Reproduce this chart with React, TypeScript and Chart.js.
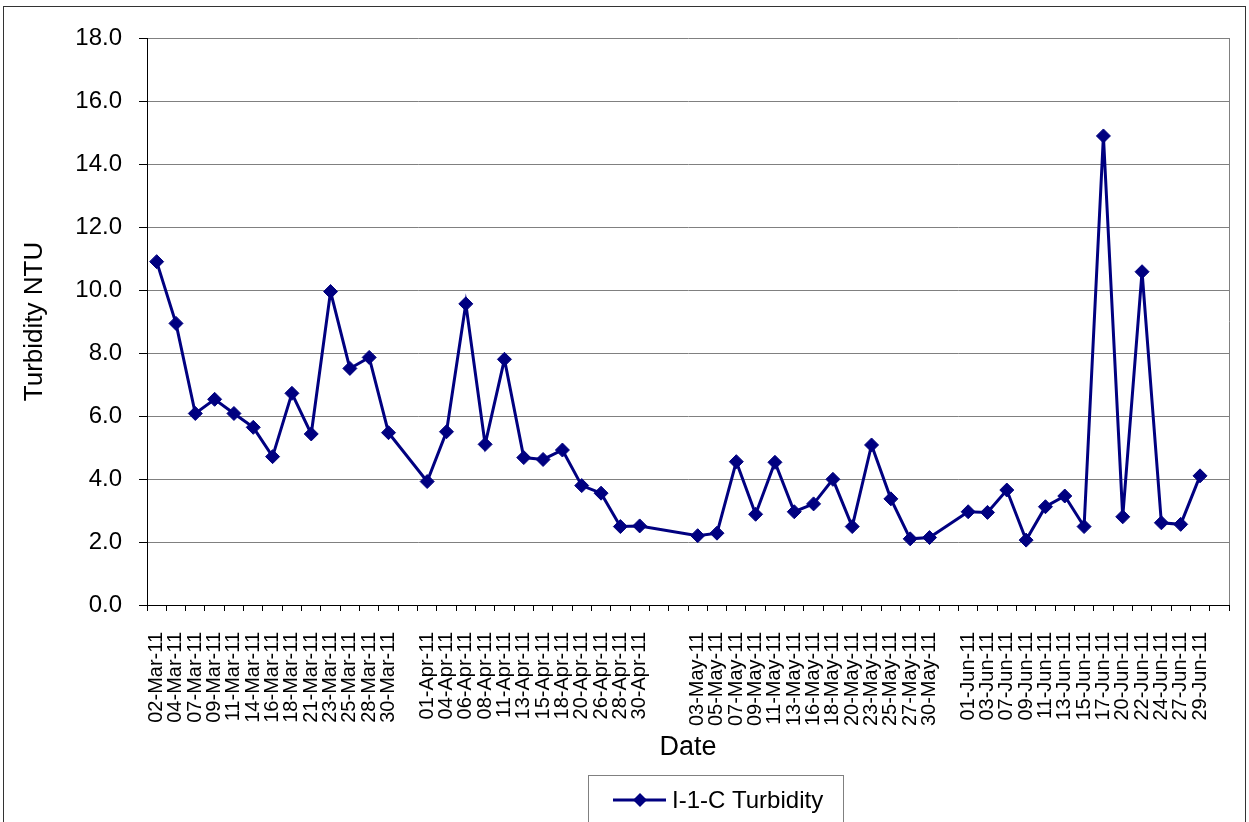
import { useEffect, useRef } from 'react';
import { Chart, registerables } from 'chart.js';

Chart.register(...registerables);

const FONT = '"Liberation Sans", Arial, sans-serif';

// Categories ('' = empty slot on the category axis)
const categories: string[] = [
  '02-Mar-11', '04-Mar-11', '07-Mar-11', '09-Mar-11', '11-Mar-11', '14-Mar-11', '16-Mar-11',
  '18-Mar-11', '21-Mar-11', '23-Mar-11', '25-Mar-11', '28-Mar-11', '30-Mar-11',
  '',
  '01-Apr-11', '04-Apr-11', '06-Apr-11', '08-Apr-11', '11-Apr-11', '13-Apr-11', '15-Apr-11',
  '18-Apr-11', '20-Apr-11', '26-Apr-11', '28-Apr-11', '30-Apr-11',
  '', '',
  '03-May-11', '05-May-11', '07-May-11', '09-May-11', '11-May-11', '13-May-11', '16-May-11',
  '18-May-11', '20-May-11', '23-May-11', '25-May-11', '27-May-11', '30-May-11',
  '',
  '01-Jun-11', '03-Jun-11', '07-Jun-11', '09-Jun-11', '11-Jun-11', '13-Jun-11', '15-Jun-11',
  '17-Jun-11', '20-Jun-11', '22-Jun-11', '24-Jun-11', '27-Jun-11', '29-Jun-11',
  '',
];

const turbidity: (number | null)[] = [
  10.9, 8.94, 6.08, 6.53, 6.08, 5.64, 4.71, 6.72, 5.43, 9.95, 7.51, 7.86, 5.47,
  null,
  3.92, 5.5, 9.56, 5.1, 7.8, 4.68, 4.62, 4.92, 3.79, 3.55, 2.49, 2.51,
  null, null,
  2.2, 2.28, 4.55, 2.88, 4.53, 2.96, 3.21, 3.99, 2.49, 5.08, 3.37, 2.1, 2.14,
  null,
  2.96, 2.94, 3.65, 2.06, 3.12, 3.46, 2.49, 14.89, 2.8, 10.58, 2.61, 2.56, 4.1,
  null,
];

const seriesLabel = 'I-1-C Turbidity';
const yTickLabels = ['0.0', '2.0', '4.0', '6.0', '8.0', '10.0', '12.0', '14.0', '16.0', '18.0'];
const xTitle = 'Date';
const yTitle = 'Turbidity NTU';

const NAVY = '#000080';

const plotFrame = {
  id: 'plotFrame',
  afterDraw(chart: any) {
    const { ctx, chartArea } = chart;
    ctx.save();
    ctx.strokeStyle = '#808080';
    ctx.lineWidth = 1;
    ctx.beginPath();
    ctx.moveTo(Math.round(chartArea.right) + 0.5, chartArea.top);
    ctx.lineTo(Math.round(chartArea.right) + 0.5, chartArea.bottom);
    ctx.stroke();
    ctx.restore();
  },
};

const boxLegend = {
  id: 'boxLegend',
  afterDraw(chart: any) {
    const { ctx } = chart;
    const ds = chart.data.datasets[0];
    const boxLeft = 588, boxTop = 775, boxW = 255, boxH = 60;
    const cy = 800;
    ctx.save();
    ctx.strokeStyle = '#808080';
    ctx.lineWidth = 1;
    ctx.strokeRect(boxLeft + 0.5, boxTop + 0.5, boxW, boxH);
    ctx.strokeStyle = ds.borderColor;
    ctx.lineWidth = ds.borderWidth;
    ctx.beginPath();
    ctx.moveTo(613, cy);
    ctx.lineTo(666, cy);
    ctx.stroke();
    const r = ds.pointRadius;
    ctx.fillStyle = ds.pointBackgroundColor;
    ctx.beginPath();
    ctx.moveTo(640, cy - r);
    ctx.lineTo(640 + r, cy);
    ctx.lineTo(640, cy + r);
    ctx.lineTo(640 - r, cy);
    ctx.closePath();
    ctx.fill();
    ctx.fillStyle = '#000';
    ctx.font = `24px ${FONT}`;
    ctx.textBaseline = 'middle';
    ctx.textAlign = 'left';
    ctx.fillText(ds.label, 672, cy + 1);
    ctx.restore();
  },
};

export default function App() {
  const ref = useRef<HTMLCanvasElement>(null);

  useEffect(() => {
    if (!ref.current) return;
    const chart = new Chart(ref.current, {
      type: 'line',
      data: {
        labels: categories,
        datasets: [
          {
            label: seriesLabel,
            data: turbidity,
            borderColor: NAVY,
            backgroundColor: NAVY,
            borderWidth: 3,
            pointStyle: 'rectRot',
            pointRadius: 7,
            pointBackgroundColor: NAVY,
            pointBorderColor: NAVY,
            pointBorderWidth: 1,
            spanGaps: true,
            tension: 0,
          },
        ],
      },
      plugins: [plotFrame, boxLegend],
      options: {
        animation: false,
        responsive: false,
        maintainAspectRatio: false,
        layout: { padding: { left: 0, right: 20, top: 38, bottom: 0 } },
        plugins: {
          legend: { display: false },
          tooltip: { enabled: false },
          title: { display: false },
        },
        scales: {
          x: {
            type: 'category',
            offset: true,
            afterFit: (scale: any) => {
              scale.height = 217;
              scale.paddingLeft = 0;
              scale.paddingRight = 0;
            },
            grid: {
              drawOnChartArea: false,
              offset: true,
              tickLength: 6,
              tickColor: '#000',
              lineWidth: 1,
            },
            border: { color: '#000', width: 1 },
            ticks: {
              autoSkip: false,
              minRotation: 90,
              maxRotation: 90,
              padding: 21,
              color: '#000',
              font: { family: FONT, size: 20 },
            },
            title: {
              display: true,
              text: xTitle,
              color: '#000',
              font: { family: FONT, size: 27 },
              padding: { top: 0, bottom: 58 },
            },
          },
          y: {
            min: 0,
            max: 18,
            afterFit: (scale: any) => {
              scale.width = 147;
            },
            ticks: {
              stepSize: 2,
              padding: 17,
              color: '#000',
              font: { family: FONT, size: 24 },
              callback: (_v: any, i: number) => yTickLabels[i],
            },
            grid: {
              color: '#808080',
              lineWidth: 1,
              tickLength: 8,
              tickColor: '#000',
            },
            border: { color: '#000', width: 1 },
            title: {
              display: true,
              text: yTitle,
              color: '#000',
              font: { family: FONT, size: 26 },
              padding: { top: 19, bottom: 0 },
            },
          },
        },
      },
    });
    return () => chart.destroy();
  }, []);

  return (
    <div style={{ position: 'fixed', left: 0, top: 0, width: 1249, height: 822, overflow: 'hidden', background: '#fff' }}>
      <div
        style={{
          position: 'absolute',
          left: 3,
          top: 6,
          width: 1243,
          height: 900,
          border: '1px solid #333',
          boxSizing: 'border-box',
        }}
      />
      <canvas ref={ref} width={1249} height={822} style={{ position: 'absolute', left: 0, top: 0, display: 'block' }} />
    </div>
  );
}
